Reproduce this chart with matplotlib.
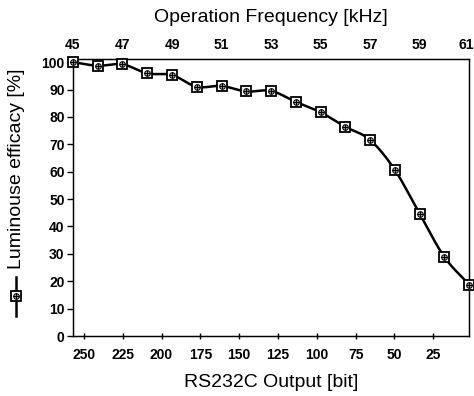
import numpy as np
import matplotlib
matplotlib.use("Agg")
import matplotlib.pyplot as plt
import matplotlib.transforms as mtransforms
from matplotlib.lines import Line2D

plt.rcParams['font.family'] = ['Liberation Sans', 'DejaVu Sans']

# Data
freq_khz = [45, 46, 47, 48, 49, 50, 51, 52, 53, 54, 55, 56, 57, 58, 59, 60, 61]
efficacy = [100, 98.7, 99.2, 95.9, 95.3, 91.0, 91.3, 89.3, 89.5, 85.5, 81.7,
            76.4, 71.6, 60.7, 44.7, 28.9, 18.8]
top_ticks = [45, 47, 49, 51, 53, 55, 57, 59, 61]
bottom_ticks = [250, 225, 200, 175, 150, 125, 100, 75, 50, 25]
y_ticks = [0, 10, 20, 30, 40, 50, 60, 70, 80, 90, 100]


def catmull_rom(x, y, n=20):
    x = np.asarray(x, float)
    y = np.asarray(y, float)
    px = np.concatenate([[2 * x[0] - x[1]], x, [2 * x[-1] - x[-2]]])
    py = np.concatenate([[2 * y[0] - y[1]], y, [2 * y[-1] - y[-2]]])
    xs, ys = [], []
    t = np.linspace(0, 1, n, endpoint=False)
    for i in range(1, len(px) - 2):
        p0x, p1x, p2x, p3x = px[i - 1:i + 3]
        p0y, p1y, p2y, p3y = py[i - 1:i + 3]
        t2, t3 = t * t, t * t * t
        xs.append(0.5 * (2 * p1x + (-p0x + p2x) * t + (2 * p0x - 5 * p1x + 4 * p2x - p3x) * t2
                         + (-p0x + 3 * p1x - 3 * p2x + p3x) * t3))
        ys.append(0.5 * (2 * p1y + (-p0y + p2y) * t + (2 * p0y - 5 * p1y + 4 * p2y - p3y) * t2
                         + (-p0y + 3 * p1y - 3 * p2y + p3y) * t3))
    xs.append([x[-1]])
    ys.append([y[-1]])
    return np.concatenate(xs), np.concatenate(ys)


fig = plt.figure(figsize=(4.74, 3.96), dpi=100)
ax = fig.add_axes([0.154, 0.1515, 0.8355, 0.6985])
ax.set_xlim(257, 2)
ax.set_ylim(0, 101)
ax.set_xticks(bottom_ticks)
ax.set_xticklabels([str(v) for v in bottom_ticks], fontsize=10, fontweight='bold')
ax.set_yticks(y_ticks)
ax.set_yticklabels([str(v) for v in y_ticks], fontsize=10, fontweight='bold')
ax.tick_params(axis='x', direction='inout', length=5, width=1, pad=6)
ax.tick_params(axis='y', direction='out', length=4, width=1, pad=2)
ax.set_xlabel('RS232C Output [bit]', fontsize=14, labelpad=9)
for s in ax.spines.values():
    s.set_linewidth(1.0)

ax2 = ax.twiny()
ax2.set_xlim(45, 61)
ax2.set_xticks(top_ticks)
ax2.set_xticklabels([str(v) for v in top_ticks], fontsize=10, fontweight='bold')
ax2.tick_params(axis='x', length=0, pad=5)
ax2.set_xlabel('Operation Frequency [kHz]', fontsize=14, labelpad=12)
# keep the last top label inside the picture
last = ax2.get_xticklabels()[-1]
last.set_transform(last.get_transform() + mtransforms.ScaledTranslation(-3 / 100, 0, fig.dpi_scale_trans))

sx, sy = catmull_rom(freq_khz, efficacy)
ax2.plot(sx, sy, color='black', lw=1.8, clip_on=False, zorder=3)
ax2.plot(freq_khz, efficacy, ls='none', marker='s', ms=7, mfc='white', mec='black',
         mew=1.3, clip_on=False, zorder=4)
ax2.plot(freq_khz, efficacy, ls='none', marker='o', ms=4, mfc='none', mec='black',
         mew=0.8, clip_on=False, zorder=5)
ax2.plot(freq_khz, efficacy, ls='none', marker='+', ms=5, mec='black',
         mew=1.0, clip_on=False, zorder=6)

# y label with legend symbol
fig.text(16.5 / 474, 1 - 169 / 396, 'Luminouse efficacy [%]', rotation=90, fontsize=14,
         ha='center', va='center')
lx = 16 / 474
fig.add_artist(Line2D([lx, lx], [1 - 277 / 396, 1 - 316 / 396], transform=fig.transFigure,
                      color='black', lw=1.8))
for m, ms, mew, mfc in [('s', 7, 1.3, 'white'), ('o', 4, 0.8, 'none'), ('+', 5, 1.0, 'none')]:
    fig.add_artist(Line2D([lx], [1 - 296 / 396], transform=fig.transFigure, ls='none',
                          marker=m, ms=ms, mew=mew, mfc=mfc, mec='black'))

fig.savefig('out.png', dpi=100)
